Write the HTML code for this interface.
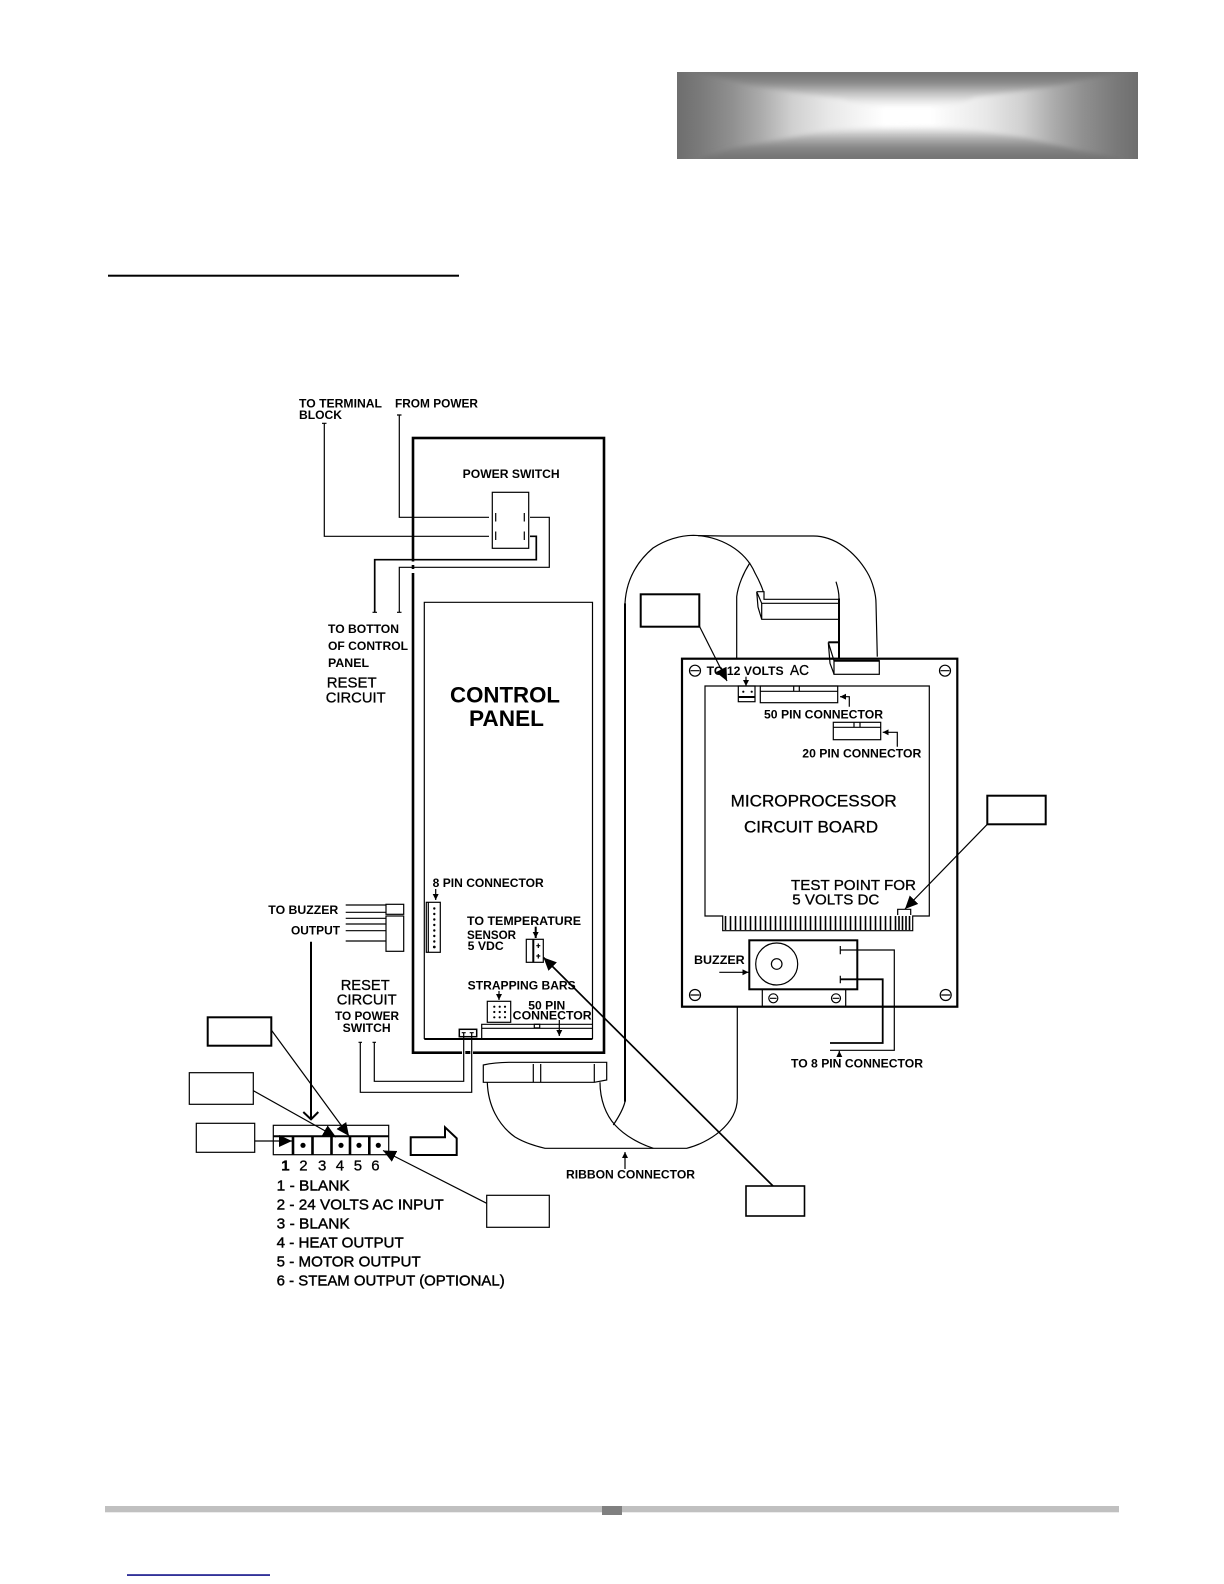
<!DOCTYPE html>
<html><head><meta charset="utf-8"><style>
html,body{margin:0;padding:0;background:#fff}
svg{display:block}
text{font-family:"Liberation Sans",sans-serif;fill:#000}
.b{font-weight:bold;font-size:12px}
.r{font-size:15px;stroke:#000;stroke-width:.3px}
.l{font-size:14.5px;stroke:#000;stroke-width:.4px}
.k{fill:none;stroke:#000;stroke-width:1.2}
.m{fill:none;stroke:#000;stroke-width:2}
.h{fill:none;stroke:#000;stroke-width:2.6}
.d{fill:#000}
</style></head><body>
<svg width="1224" height="1584" viewBox="0 0 1224 1584" xmlns="http://www.w3.org/2000/svg">
<defs>
<linearGradient id="gh" x1="677" x2="1138" y1="0" y2="0" gradientUnits="userSpaceOnUse">
<stop offset="0" stop-color="#6e6e6e"/><stop offset=".05" stop-color="#7a7a7a"/><stop offset=".12" stop-color="#909090"/><stop offset=".18" stop-color="#aaaaaa"/><stop offset=".25" stop-color="#d0d0d0"/><stop offset=".33" stop-color="#e8e8e8"/><stop offset=".45" stop-color="#fff"/><stop offset=".55" stop-color="#fff"/><stop offset=".67" stop-color="#e8e8e8"/><stop offset=".75" stop-color="#d0d0d0"/><stop offset=".82" stop-color="#aaaaaa"/><stop offset=".88" stop-color="#909090"/><stop offset=".95" stop-color="#7a7a7a"/><stop offset="1" stop-color="#6e6e6e"/>
</linearGradient>
<linearGradient id="gt" x1="0" x2="0" y1="72" y2="113" gradientUnits="userSpaceOnUse">
<stop offset="0" stop-color="#727272"/><stop offset=".27" stop-color="#8a8a8a"/><stop offset=".51" stop-color="#c0c0c0"/><stop offset=".76" stop-color="#f0f0f0"/><stop offset="1" stop-color="#fff"/>
</linearGradient>
<linearGradient id="gb" x1="0" x2="0" y1="159" y2="118" gradientUnits="userSpaceOnUse">
<stop offset="0" stop-color="#727272"/><stop offset=".27" stop-color="#858585"/><stop offset=".51" stop-color="#b0b0b0"/><stop offset=".76" stop-color="#f0f0f0"/><stop offset="1" stop-color="#fff"/>
</linearGradient>
<clipPath id="hc"><rect x="677" y="72" width="461" height="87"/></clipPath>
<filter id="bl" x="-5%" y="-30%" width="110%" height="160%"><feGaussianBlur stdDeviation="2.5"/></filter>
<marker id="a" markerUnits="userSpaceOnUse" markerWidth="7" markerHeight="7" refX="6" refY="3" orient="auto"><path d="M0,0 L6,3 L0,6 Z" fill="#000"/></marker>
<marker id="B" markerUnits="userSpaceOnUse" markerWidth="14" markerHeight="13" refX="13" refY="6.5" orient="auto"><path d="M0,0.5 L13,6.5 L0,12.5 Z" fill="#000"/></marker>
</defs>

<!-- header -->
<rect x="677" y="72" width="461" height="87" fill="url(#gh)"/>
<g clip-path="url(#hc)">
<g filter="url(#bl)">
<path d="M695,68 L1125,68 L1125,72 L1045,88 L975,97 L955,106 L860,106 L843,99 L760,88 L695,72 Z" fill="url(#gt)"/>
<path d="M700,163 L1120,163 L1120,158 L1077,150 L1027,138 L953,127 L843,128 L777,140 L733,148 L700,158 Z" fill="url(#gb)"/>
</g>
</g>
<rect x="108" y="274.7" width="351" height="2" fill="#000"/>

<!-- control panel -->
<rect x="413" y="438" width="191" height="614.7" class="h"/>
<path d="M424.3,1039 V602.3 H592.5 V1039" class="k"/>
<path d="M424.3,1039 H592.5" class="m"/>

<!-- switch -->
<rect x="492.3" y="492.3" width="36.4" height="56" class="k"/>
<path d="M399.3,415 V517.3 H489 M324.3,423.3 V536.3 H489 M530,517.3 H549.3 V567.3 H399.3 V612.3" class="k"/>
<path d="M397,415 H401.5 M322,423.3 H326.5 M397,612.3 H401.5 M372.5,612.3 H377" class="k"/>
<path d="M530,536.3 H536.3 V559.7 H374.7 V612.3" fill="none" stroke="#000" stroke-width="1.7"/>
<path d="M495.7,513 V521.5 M524.3,513 V521.5 M495.7,531.5 V540 M524.3,531.5 V540" class="k" stroke-width="1.6"/>
<rect x="411" y="561.5" width="4" height="3.5" fill="#fff"/><rect x="411" y="569" width="4" height="4" fill="#fff"/>

<text class="b" x="299" y="407.7" textLength="83" lengthAdjust="spacingAndGlyphs">TO TERMINAL</text>
<text class="b" x="299" y="419" textLength="43" lengthAdjust="spacingAndGlyphs">BLOCK</text>
<text class="b" x="395" y="407.7" textLength="83" lengthAdjust="spacingAndGlyphs">FROM POWER</text>
<text class="b" x="462.7" y="478" textLength="97" lengthAdjust="spacingAndGlyphs">POWER SWITCH</text>
<text class="b" x="328" y="633" textLength="71" lengthAdjust="spacingAndGlyphs">TO BOTTON</text>
<text class="b" x="328" y="650" textLength="80" lengthAdjust="spacingAndGlyphs">OF CONTROL</text>
<text class="b" x="328" y="667" textLength="41" lengthAdjust="spacingAndGlyphs">PANEL</text>
<text class="r" x="326.7" y="687.7" textLength="50" lengthAdjust="spacingAndGlyphs">RESET</text>
<text class="r" x="325.7" y="702.7" textLength="60" lengthAdjust="spacingAndGlyphs">CIRCUIT</text>
<text x="450" y="702.3" textLength="110" lengthAdjust="spacingAndGlyphs" font-size="22" font-weight="bold">CONTROL</text>
<text x="469" y="726" textLength="75" lengthAdjust="spacingAndGlyphs" font-size="22" font-weight="bold">PANEL</text>

<!-- 8 pin -->
<text class="b" x="432.7" y="887" textLength="111" lengthAdjust="spacingAndGlyphs">8 PIN CONNECTOR</text>
<line x1="435.7" y1="889" x2="435.7" y2="900" class="k" marker-end="url(#a)"/>
<rect x="426.3" y="902.3" width="14" height="50" class="k"/>
<line x1="428.3" y1="902.3" x2="428.3" y2="952.3" class="k"/>
<g class="d"><circle cx="434.3" cy="908.5" r="1.2"/><circle cx="434.3" cy="914" r="1.2"/><circle cx="434.3" cy="919.5" r="1.2"/><circle cx="434.3" cy="925" r="1.2"/><circle cx="434.3" cy="930.5" r="1.2"/><circle cx="434.3" cy="936" r="1.2"/><circle cx="434.3" cy="941.5" r="1.2"/><circle cx="434.3" cy="947" r="1.4"/></g>

<!-- temperature -->
<text class="b" x="467" y="925" textLength="114" lengthAdjust="spacingAndGlyphs">TO TEMPERATURE</text>
<text class="b" x="467" y="939" textLength="49" lengthAdjust="spacingAndGlyphs">SENSOR</text>
<text class="b" x="467.7" y="950" textLength="36" lengthAdjust="spacingAndGlyphs">5 VDC</text>
<line x1="535.7" y1="926.7" x2="535.7" y2="938" class="m" stroke-width="1.5" marker-end="url(#a)"/>
<rect x="526.3" y="939.3" width="17" height="23" class="k" stroke-width="1.5"/>
<line x1="533.3" y1="939.3" x2="533.3" y2="962.3" class="m" stroke-width="1.6"/>
<path d="M538.3,943.5 V948 M536.3,945.7 H540.3 M538.3,954 V958.5 M536.3,956 H540.3" class="k" stroke-width="1"/>
<line x1="773" y1="1186" x2="543.5" y2="957.5" fill="none" stroke="#000" stroke-width="1.7" marker-end="url(#B)"/>
<rect x="746" y="1186" width="58.5" height="30" fill="#fff" stroke="#000" stroke-width="1.6"/>

<!-- strapping -->
<text class="b" x="467.7" y="989.3" textLength="108" lengthAdjust="spacingAndGlyphs">STRAPPING BARS</text>
<line x1="499" y1="991" x2="499" y2="1000" class="k" marker-end="url(#a)"/>
<rect x="487.3" y="1001.3" width="23.4" height="21" class="k"/>
<g class="d"><circle cx="494.3" cy="1006.7" r="1.1"/><circle cx="499.7" cy="1006.7" r="1.1"/><circle cx="505" cy="1006.7" r="1.1"/><circle cx="494.3" cy="1012" r="1.1"/><circle cx="499.7" cy="1012" r="1.1"/><circle cx="505" cy="1012" r="1.1"/><circle cx="494.3" cy="1017.3" r="1.1"/><circle cx="499.7" cy="1017.3" r="1.1"/><circle cx="505" cy="1017.3" r="1.1"/></g>
<text class="b" x="528.3" y="1009.3" textLength="37" lengthAdjust="spacingAndGlyphs">50 PIN</text>
<text class="b" x="512.7" y="1019.3" textLength="79" lengthAdjust="spacingAndGlyphs">CONNECTOR</text>
<path d="M481.7,1039 V1024.3 H592.3 M481.7,1028.3 H592.3" class="k"/>
<rect x="534.3" y="1024.3" width="5.4" height="3.6" class="k"/>
<line x1="559.3" y1="1020" x2="559.3" y2="1036" class="k" marker-end="url(#a)"/>

<!-- buzzer wires + output -->
<text class="b" x="268.3" y="914" textLength="70" lengthAdjust="spacingAndGlyphs">TO BUZZER</text>
<text class="b" x="291" y="934.3" textLength="49" lengthAdjust="spacingAndGlyphs">OUTPUT</text>
<path d="M345.7,905 H386 M345.7,912.3 H386 M345.7,918.3 H386 M345.7,924 H386 M345.7,930.7 H386 M345.7,941 H386" class="k"/>
<rect x="386" y="904.3" width="17.7" height="10" class="k"/>
<rect x="386" y="916" width="17.7" height="35.3" class="k"/>
<path d="M311,941.7 V1119" class="m"/>
<path d="M303.3,1112 L311,1119.3 L318.3,1112" class="m" stroke-width="1.7"/>

<!-- reset -->
<text class="r" x="340.7" y="990" textLength="49" lengthAdjust="spacingAndGlyphs">RESET</text>
<text class="r" x="336.7" y="1004.7" textLength="60" lengthAdjust="spacingAndGlyphs">CIRCUIT</text>
<text class="b" x="335" y="1020" textLength="64" lengthAdjust="spacingAndGlyphs">TO POWER</text>
<text class="b" x="342.7" y="1032" textLength="48" lengthAdjust="spacingAndGlyphs">SWITCH</text>
<rect x="462" y="1051" width="11" height="3.4" fill="#fff"/>
<rect x="465.3" y="1051" width="5" height="3" fill="#000"/>
<rect x="459.3" y="1029.3" width="17.4" height="7.4" fill="#fff" stroke="#000" stroke-width="1.5"/>
<path d="M463.7,1032.7 V1081.3 H374.3 V1042.3 M471.7,1032.7 V1092.3 H360.3 V1042.3" class="k"/>
<path d="M372.5,1042.3 H376 M358.5,1042.3 H362 M461.7,1032.7 H465.7 M469.7,1032.7 H473.7" class="k"/>

<!-- terminal block -->
<rect x="273.3" y="1125.3" width="115.4" height="29.4" class="k" stroke-width="1.4"/>
<line x1="273.3" y1="1136.3" x2="388.7" y2="1136.3" class="m" stroke-width="1.5"/>
<path d="M293,1136.3 V1154.7 M312.5,1136.3 V1154.7 M331.5,1136.3 V1154.7 M350,1136.3 V1154.7 M369.3,1136.3 V1154.7" class="h"/>
<g class="d"><circle cx="303" cy="1145.3" r="2.6"/><circle cx="341" cy="1145.3" r="2.6"/><circle cx="359" cy="1145.3" r="2.6"/><circle cx="378.3" cy="1145.3" r="2.6"/></g>
<path d="M410.7,1155 V1137.3 H445 V1127.3 L456.7,1138.3 V1155 Z" class="m" stroke-width="1.3"/>

<!-- callouts left -->
<rect x="207.7" y="1017.3" width="63.6" height="28.4" class="m"/>
<rect x="189.3" y="1072.7" width="64" height="31.6" class="k" stroke-width="1.5"/>
<rect x="196.3" y="1123.3" width="58.4" height="29" class="k"/>
<rect x="486.7" y="1195.3" width="62.6" height="32" class="k" stroke-width="1.6"/>
<line x1="271.3" y1="1030" x2="349" y2="1136" class="k" stroke-width="1.6" marker-end="url(#B)"/>
<line x1="253.3" y1="1090.7" x2="336" y2="1137" class="k" stroke-width="1.6" marker-end="url(#B)"/>
<line x1="254.7" y1="1141" x2="292" y2="1141" class="k" stroke-width="1.6" marker-end="url(#B)"/>
<line x1="486.7" y1="1203.3" x2="383" y2="1150.5" class="k" stroke-width="1.6" marker-end="url(#B)"/>

<!-- numbers and list -->
<text class="r" x="281.3" y="1170.7" font-weight="bold">1</text>
<text class="r" x="299.3" y="1170.7">2</text>
<text class="r" x="318" y="1170.7">3</text>
<text class="r" x="335.7" y="1170.7">4</text>
<text class="r" x="353.7" y="1170.7">5</text>
<text class="r" x="371.3" y="1170.7">6</text>
<text class="l" x="276.7" y="1190.7" textLength="73" lengthAdjust="spacingAndGlyphs">1 - BLANK</text>
<text class="l" x="276.7" y="1209.7" textLength="167" lengthAdjust="spacingAndGlyphs">2 - 24 VOLTS AC INPUT</text>
<text class="l" x="276.7" y="1228.7" textLength="73" lengthAdjust="spacingAndGlyphs">3 - BLANK</text>
<text class="l" x="276.7" y="1247.7" textLength="127" lengthAdjust="spacingAndGlyphs">4 - HEAT OUTPUT</text>
<text class="l" x="276.7" y="1266.7" textLength="144" lengthAdjust="spacingAndGlyphs">5 - MOTOR OUTPUT</text>
<text class="l" x="276.7" y="1285.7" textLength="228" lengthAdjust="spacingAndGlyphs">6 - STEAM OUTPUT (OPTIONAL)</text>

<!-- ribbon lower -->
<path d="M483.3,1065 Q495,1062.3 510,1062.3 H606.7 V1080 L594.3,1082.3 H483.3 Z" class="k" stroke-width="1.3"/>
<path d="M533.3,1064 V1082.3 M540.7,1064 V1082.3 M594.3,1064 V1082.3" class="k"/>
<path d="M487.3,1082.3 C488,1105 498,1125 515,1137 C525,1143 535,1146 545,1148.3 H686.7 C708,1143 737.3,1125 737.3,1098.3 V1006.7" class="k"/>
<path d="M600,1082.3 C600,1100 606,1115 615,1125 C625,1136 640,1144 653.3,1148.3" class="k"/>
<path d="M625,603.3 V1101.7" class="m"/>
<path d="M625,1101.7 C623,1110 618,1118 613.3,1125" class="k"/>
<line x1="625" y1="1169" x2="625" y2="1152" class="k" stroke-width="1.4" marker-end="url(#a)"/>
<text class="b" x="566" y="1178.7" textLength="129" lengthAdjust="spacingAndGlyphs">RIBBON CONNECTOR</text>

<!-- ribbon upper -->
<path d="M625,603.3 C626,585 633,565 653,548 C665,540 680,535.3 693.3,535.3 C720,536 745,550 755,573 C760,582 763,590 763.3,592" class="k"/>
<path d="M698,535.6 L722.7,536 H813.3 C835,536 855,552 867,572 C873,582 876,595 876,603.3 L877.3,656.7" class="k"/>
<path d="M736.7,658.3 V596.7 C738,585 744,572 750,562.7" class="k"/>
<path d="M836,581.7 C838,588 839,593 839,598.3" class="k"/>
<path d="M839,598.3 V658.3" class="m"/>
<path d="M756.7,591.7 H764 V599.3 H838.3 M761.7,603.3 H838.3 M756.7,591.7 L761.7,603.3 M756.7,591.7 L758,607 L761.7,619.3 H838.3 M761.7,603.3 V619.3" class="k"/>
<path d="M828.3,642.3 H839" class="m"/>
<path d="M828.3,642.3 L830,663.3 L834,674 M828.3,642.3 L834,660.7" class="k"/>

<!-- micro board -->
<rect x="682" y="658.7" width="275.3" height="348" fill="none" stroke="#000" stroke-width="2.2"/>
<rect x="834" y="660.7" width="45.3" height="13.6" fill="#fff" stroke="#000" stroke-width="1.2"/>
<line x1="834" y1="660.7" x2="879.3" y2="660.7" class="m"/>
<path d="M705,686 H929.3 V916 H912.7 V930.7 H722.7 V916 H705 Z" class="k"/>
<g class="k"><circle cx="695" cy="670.7" r="5.5"/><circle cx="945" cy="670.7" r="5.5"/><circle cx="695" cy="995" r="5.5"/><circle cx="945.7" cy="995" r="5.5"/></g>
<path d="M690.5,670.7 H699.5 M940.5,670.7 H949.5 M690.5,995 H699.5 M941.2,995 H950.2" class="k" stroke-width="1.5"/>
<text class="b" x="706.7" y="675" textLength="77" lengthAdjust="spacingAndGlyphs">TO 12 VOLTS</text>
<text class="r" x="790" y="675" textLength="19" lengthAdjust="spacingAndGlyphs">AC</text>
<line x1="746" y1="676.7" x2="746" y2="686" class="k" marker-end="url(#a)"/>
<rect x="738.3" y="686" width="16.7" height="15.7" class="k"/>
<line x1="738.3" y1="697" x2="755" y2="697" class="m"/>
<g class="d"><circle cx="743.3" cy="691.7" r="1.1"/><circle cx="751.7" cy="691.7" r="1.1"/></g>
<rect x="760.3" y="686" width="77.4" height="16.7" class="k"/>
<line x1="760.3" y1="691.3" x2="837.7" y2="691.3" class="k"/>
<path d="M793.7,686 V691.3 M799.3,686 V691.3" class="k"/>
<path d="M849.3,706.7 V696.7 H840" class="k" marker-end="url(#a)"/>
<text class="b" x="764" y="718.7" textLength="119" lengthAdjust="spacingAndGlyphs">50 PIN CONNECTOR</text>
<rect x="833.3" y="722.3" width="47.4" height="17.4" class="k"/>
<line x1="833.3" y1="727.3" x2="880.7" y2="727.3" class="k"/>
<path d="M854,722.3 V727.3 M860,722.3 V727.3" class="k"/>
<path d="M897.3,746.7 V732.3 H882.7" class="k" marker-end="url(#a)"/>
<text class="b" x="802.3" y="757.7" textLength="119" lengthAdjust="spacingAndGlyphs">20 PIN CONNECTOR</text>
<text class="r" x="730.7" y="806.7" style="font-size:17px" textLength="166" lengthAdjust="spacingAndGlyphs">MICROPROCESSOR</text>
<text class="r" x="744" y="832.3" style="font-size:17px" textLength="134" lengthAdjust="spacingAndGlyphs">CIRCUIT BOARD</text>
<text class="r" x="791" y="890" textLength="125" lengthAdjust="spacingAndGlyphs">TEST POINT FOR</text>
<text class="r" x="792.3" y="904.7" textLength="87" lengthAdjust="spacingAndGlyphs">5 VOLTS DC</text>

<!-- edge fingers -->
<path d="M725.5,916 V930 M730.5,916 V930 M735.5,916 V930 M740.5,916 V930 M745.5,916 V930 M750.5,916 V930 M755.5,916 V930 M760.5,916 V930 M765.5,916 V930 M770.5,916 V930 M775.5,916 V930 M780.5,916 V930 M785.5,916 V930 M790.5,916 V930 M795.5,916 V930 M800.5,916 V930 M805.5,916 V930 M810.5,916 V930 M815.5,916 V930 M820.5,916 V930 M825.5,916 V930 M830.5,916 V930 M835.5,916 V930 M840.5,916 V930 M845.5,916 V930 M850.5,916 V930 M855.5,916 V930 M860.5,916 V930 M865.5,916 V930 M870.5,916 V930 M875.5,916 V930 M880.5,916 V930 M885.5,916 V930 M890.5,916 V930 M895.5,916 V930 M899,916 V930 M902.5,916 V930 M906,916 V930 M909.5,916 V930" fill="none" stroke="#000" stroke-width="1.6"/>
<path d="M897.7,915 V909.3 H910.7 V915" class="k" stroke-width="1.5"/>

<!-- buzzer -->
<rect x="749.3" y="940.3" width="108" height="49" class="m"/>
<circle cx="776.7" cy="964" r="21" class="k" stroke-width="1.3"/>
<circle cx="776.7" cy="964" r="5.3" class="k"/>
<path d="M762.3,989.3 V1006.7 M845.7,989.3 V1006.7" class="k"/>
<g class="k"><circle cx="773.3" cy="998.3" r="4.5"/><circle cx="836" cy="998.3" r="4.5"/></g>
<path d="M770,998.3 H776.6 M832.7,998.3 H839.3" class="k"/>
<text class="b" x="694" y="964" textLength="50.7" lengthAdjust="spacingAndGlyphs">BUZZER</text>
<line x1="719.3" y1="972.3" x2="748.5" y2="972.3" class="k" marker-end="url(#a)"/>
<path d="M840.3,946 V954.3 M840.3,975.7 V983.3" class="k" stroke-width="1.5"/>
<path d="M840.3,950 H894.3 V1050.3 H830" class="k"/>
<path d="M840.3,979.3 H882.7 V1043 H830" fill="none" stroke="#000" stroke-width="1.8"/>
<line x1="839.3" y1="1057" x2="839.3" y2="1051" class="k" marker-end="url(#a)"/>
<text class="b" x="791" y="1067.3" textLength="132" lengthAdjust="spacingAndGlyphs">TO 8 PIN CONNECTOR</text>

<!-- callouts right -->
<rect x="640.7" y="594.3" width="58.6" height="32.4" class="m" stroke-width="1.6"/>
<line x1="699.3" y1="626" x2="727" y2="681" class="k" stroke-width="1.6" marker-end="url(#B)"/>
<rect x="987.3" y="795.7" width="58.4" height="28.6" class="m" stroke-width="1.6"/>
<line x1="987.3" y1="824.3" x2="905" y2="909" class="k" stroke-width="1.5" marker-end="url(#B)"/>

<!-- footer -->
<rect x="105" y="1506" width="1014" height="6.3" fill="#c0c0c0"/>
<rect x="602" y="1506" width="20" height="9" fill="#808080"/>
<rect x="127" y="1574.3" width="143" height="1.5" fill="#000080"/>
</svg>
</body></html>
